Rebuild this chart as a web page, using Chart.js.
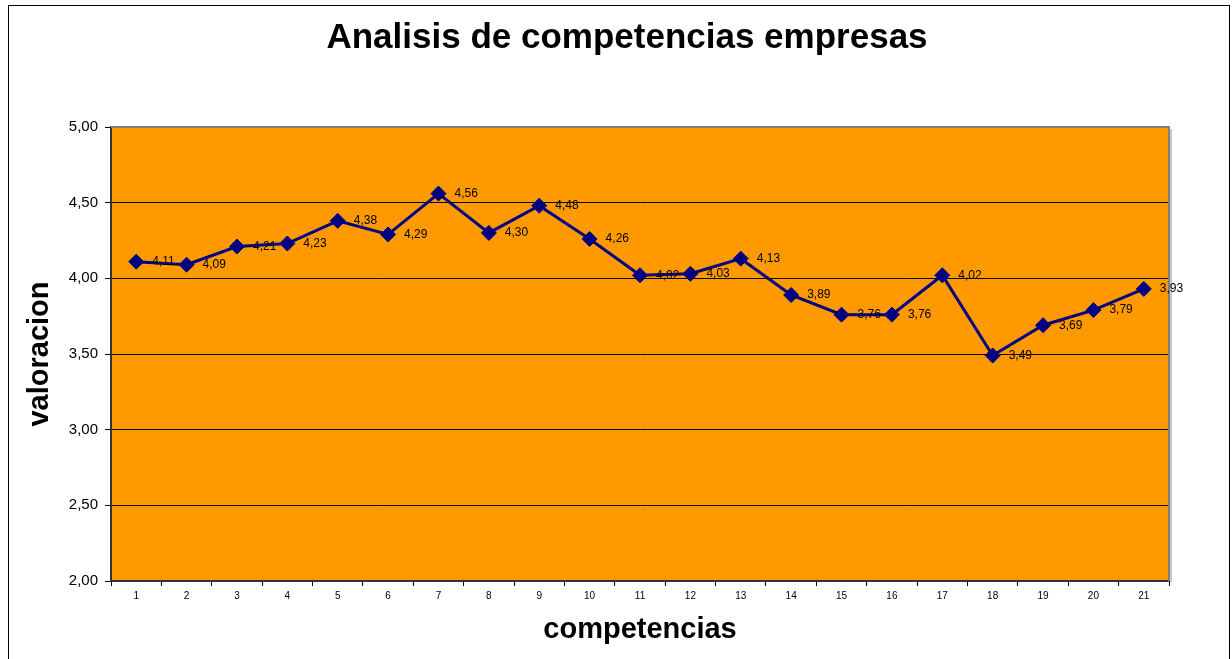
<!DOCTYPE html>
<html>
<head>
<meta charset="utf-8">
<title>Analisis de competencias empresas</title>
<script src="https://cdn.jsdelivr.net/npm/chart.js@4/dist/chart.umd.min.js"></script>
<style>
  body { margin: 0; background: #fff; }
  canvas { display: block; }
</style>
</head>
<body>
<canvas id="competenciasChart" width="1232" height="659"></canvas>
<script>
// chart data
const competencias = ["1", "2", "3", "4", "5", "6", "7", "8", "9", "10", "11",
  "12", "13", "14", "15", "16", "17", "18", "19", "20", "21"];
const valoraciones = [4.11, 4.09, 4.21, 4.23, 4.38, 4.29, 4.56, 4.30, 4.48, 4.26, 4.02,
  4.03, 4.13, 3.89, 3.76, 3.76, 4.02, 3.49, 3.69, 3.79, 3.93];
const titulo = "Analisis de competencias empresas";

function coma(v) {
  return v.toFixed(2).replace(".", ",");
}

// frame, orange plot area and chart title
const fondoPlugin = {
  id: "fondo",
  beforeDraw: function (chart) {
    const ctx = chart.ctx;
    const a = chart.chartArea;
    ctx.save();
    ctx.fillStyle = "#ffffff";
    ctx.fillRect(0, 0, chart.width, chart.height);
    ctx.strokeStyle = "#000000";
    ctx.lineWidth = 1;
    ctx.strokeRect(8.5, 5.5, 1221, 700);
    ctx.fillStyle = "#FF9900";
    ctx.fillRect(a.left, a.top, a.right - a.left, a.bottom - a.top);
    ctx.fillStyle = "#000000";
    ctx.font = "bold 35px Arial, 'Liberation Sans', sans-serif";
    ctx.textAlign = "center";
    ctx.textBaseline = "alphabetic";
    ctx.fillText(titulo, 627, 48);
    ctx.restore();
  },
  beforeDatasetsDraw: function (chart) {
    const ctx = chart.ctx;
    const a = chart.chartArea;
    ctx.save();
    // shadow on the right
    ctx.strokeStyle = "#c8c8c8";
    ctx.lineWidth = 2;
    ctx.beginPath();
    ctx.moveTo(a.right + 2, a.top + 2);
    ctx.lineTo(a.right + 2, a.bottom + 1);
    ctx.stroke();
    ctx.strokeStyle = "#808080";
    ctx.lineWidth = 2;
    ctx.beginPath();
    ctx.moveTo(a.left, a.top);
    ctx.lineTo(a.right, a.top);
    ctx.lineTo(a.right, a.bottom);
    ctx.stroke();
    ctx.restore();
  },
};

// value labels to the right of each point
const etiquetasPlugin = {
  id: "etiquetas",
  afterDatasetsDraw: function (chart) {
    const ctx = chart.ctx;
    const meta = chart.getDatasetMeta(0);
    ctx.save();
    ctx.fillStyle = "#000000";
    ctx.font = "12px Arial, 'Liberation Sans', sans-serif";
    ctx.textAlign = "left";
    ctx.textBaseline = "middle";
    meta.data.forEach(function (pt, i) {
      ctx.fillText(coma(valoraciones[i]), pt.x + 16, pt.y);
    });
    ctx.restore();
  },
};

const ctx = document.getElementById("competenciasChart").getContext("2d");
new Chart(ctx, {
  type: "line",
  data: {
    labels: competencias,
    datasets: [
      {
        label: "valoracion",
        data: valoraciones,
        borderColor: "#000080",
        backgroundColor: "#000080",
        borderWidth: 3,
        pointStyle: "rectRot",
        pointRadius: 7.5,
        pointHoverRadius: 7.5,
        pointBackgroundColor: "#000080",
        pointBorderColor: "#000080",
        pointBorderWidth: 1,
        tension: 0,
        fill: false,
      },
    ],
  },
  options: {
    responsive: false,
    animation: false,
    layout: {
      padding: { left: 0, top: 127, right: 63, bottom: 0 },
    },
    plugins: {
      legend: { display: false },
      title: { display: false },
      tooltip: { enabled: false },
    },
    scales: {
      x: {
        type: "category",
        offset: true,
        grid: {
          offset: true,
          drawOnChartArea: false,
          drawTicks: true,
          tickLength: 5,
          color: "#000000",
        },
        border: { color: "#333333", width: 2 },
        ticks: {
          color: "#000000",
          font: { family: "Arial, 'Liberation Sans', sans-serif", size: 10 },
          padding: 4,
          maxRotation: 0,
          autoSkip: false,
        },
        title: {
          display: true,
          text: "competencias",
          color: "#000000",
          font: { family: "Arial, 'Liberation Sans', sans-serif", size: 29, weight: "bold" },
          padding: { top: 0, bottom: 12 },
        },
        afterFit: function (scale) {
          scale.height = 78;
        },
      },
      y: {
        min: 2,
        max: 5,
        grid: {
          color: "#000000",
          lineWidth: 1,
          drawTicks: true,
          tickLength: 6,
        },
        border: { color: "#333333", width: 2 },
        ticks: {
          stepSize: 0.5,
          color: "#000000",
          padding: 7,
          font: { family: "Arial, 'Liberation Sans', sans-serif", size: 15 },
          callback: function (value) {
            return coma(value);
          },
        },
        title: {
          display: true,
          text: "valoracion",
          color: "#000000",
          font: { family: "Arial, 'Liberation Sans', sans-serif", size: 29, weight: "bold" },
          padding: { top: 23, bottom: 0 },
        },
        afterFit: function (scale) {
          scale.width = 111;
        },
      },
    },
  },
  plugins: [fondoPlugin, etiquetasPlugin],
});
</script>
</body>
</html>
